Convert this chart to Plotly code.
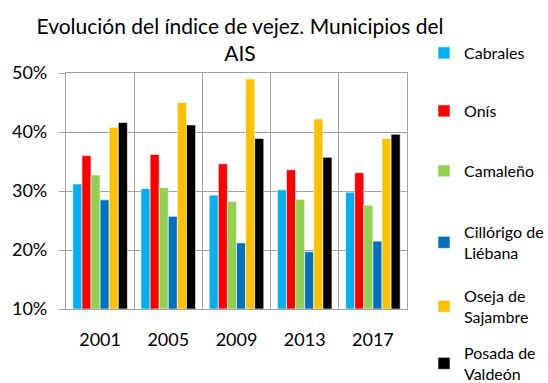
import plotly.graph_objects as go

years = ["2001", "2005", "2009", "2013", "2017"]
municipios = [
    "Cabrales",
    "Onís",
    "Camaleño",
    "Cillórigo de<br>Liébana",
    "Oseja de<br>Sajambre",
    "Posada de<br>Valdeón",
]
colores = ["#00B0F0", "#FF0000", "#92D050", "#0070C0", "#FFC000", "#000000"]

cabrales = [31.2, 30.4, 29.3, 30.2, 29.8]
onis = [36.0, 36.2, 34.6, 33.6, 33.1]
camaleno = [32.7, 30.6, 28.2, 28.6, 27.6]
cillorigo = [28.5, 25.7, 21.2, 19.7, 21.5]
oseja = [40.8, 45.0, 49.0, 42.2, 38.9]
posada = [41.6, 41.2, 38.9, 35.7, 39.6]
series = [cabrales, onis, camaleno, cillorigo, oseja, posada]

y_ticks = [10, 20, 30, 40, 50]
y_labels = ["10%", "20%", "30%", "40%", "50%"]

FONT = "Lato"
GRID = "#A0A0A0"
W, H = 548, 383

# one legend box per municipality, stacked down the right-hand side
legend_tops = [36, 94, 154, 215, 279, 336]
legend_ids = ["legend"] + [f"legend{i}" for i in range(2, 7)]

fig = go.Figure()
for nombre, color, valores, lid in zip(municipios, colores, series, legend_ids):
    fig.add_trace(go.Bar(
        x=years,
        y=[v - y_ticks[0] for v in valores],
        base=y_ticks[0],
        name=nombre,
        legend=lid,
        marker=dict(color=color, line=dict(color="white", width=0.6)),
    ))

legend_style = dict(
    x=424 / W,
    xref="container",
    xanchor="left",
    yref="container",
    yanchor="top",
    font=dict(size=16, family=FONT, color="#000000"),
    itemwidth=30,
    bgcolor="rgba(0,0,0,0)",
)
legends = {lid: dict(legend_style, y=1 - top / H) for lid, top in zip(legend_ids, legend_tops)}

fig.update_layout(
    width=W,
    height=H,
    margin=dict(l=66, r=141, t=73, b=74),
    paper_bgcolor="white",
    plot_bgcolor="white",
    font=dict(family=FONT, color="#000000"),
    barmode="group",
    bargap=0.2,
    bargroupgap=0,
    title=dict(
        text="Evolución del índice de vejez. Municipios del<br>AIS",
        x=240 / W,
        xanchor="center",
        xref="container",
        yref="container",
        y=1 - 34 / H,
        yanchor="middle",
        font=dict(size=21, family=FONT, color="#000000"),
    ),
    xaxis=dict(
        type="category",
        range=[-0.5, 4.5],
        showgrid=False,
        showline=True,
        mirror=True,
        linecolor=GRID,
        linewidth=1.3,
        ticks="",
        tickfont=dict(size=18, family=FONT),
        ticklabelstandoff=14,
    ),
    xaxis2=dict(
        overlaying="x",
        range=[-0.5, 4.5],
        tickvals=[-0.5, 0.5, 1.5, 2.5, 3.5, 4.5],
        showticklabels=False,
        showgrid=True,
        gridcolor=GRID,
        gridwidth=1.3,
        zeroline=False,
        ticks="",
    ),
    yaxis=dict(
        range=[10, 50],
        tickvals=y_ticks,
        ticktext=y_labels,
        showgrid=True,
        gridcolor=GRID,
        gridwidth=1.3,
        zeroline=False,
        showline=True,
        mirror=True,
        linecolor=GRID,
        linewidth=1.3,
        ticks="outside",
        ticklen=6,
        tickwidth=1.3,
        tickcolor=GRID,
        tickfont=dict(size=18, family=FONT),
        ticklabelstandoff=8,
    ),
    **legends,
)

# invisible helper trace so the category-boundary axis is drawn
fig.add_trace(go.Scatter(x=[0], y=[10], xaxis="x2", mode="markers",
                         marker=dict(opacity=0), showlegend=False, hoverinfo="skip"))

fig.write_html("out.html")
